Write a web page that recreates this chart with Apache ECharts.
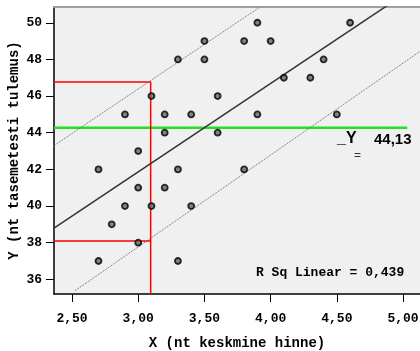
<!DOCTYPE html>
<html>
<head>
<meta charset="utf-8">
<script src="https://cdn.jsdelivr.net/npm/echarts@6/dist/echarts.min.js"></script>
<style>
html,body{margin:0;padding:0;background:#fff;}
#c{width:420px;height:351px;}
</style>
</head>
<body>
<div id="c"></div>
<script>
// Data
const xValues = [2.7,2.7,2.8,2.9,2.9,3.0,3.0,3.0,3.1,3.1,3.2,3.2,3.2,3.3,3.3,3.3,3.4,3.4,3.5,3.5,3.6,3.6,3.8,3.8,3.9,3.9,4.0,4.1,4.3,4.4,4.5,4.6];
const yValues = [42,37,39,45,40,43,41,38,46,40,45,44,41,48,42,37,45,40,49,48,46,44,49,42,50,45,49,47,47,48,45,50];
const xTicks = [2.5,3.0,3.5,4.0,4.5,5.0];
const yTicks = [36,38,40,42,44,46,48,50];
const xRange = [2.364,5.128];
const yRange = [35.2,50.86];
const upperBand = [[2.364,43.30],[3.92,50.86]];
const lowerBand = [[2.523,35.38],[5.128,48.44]];
const meanLine = [[2.364,44.27],[5.032,44.27]];
const meanLabel = "44,13";
const rSqLabel = "R Sq Linear = 0,439";
const redX = 3.094, redTop = 46.77, redLow = 38.09;

// least squares fit from the data
const n = xValues.length;
const mx = xValues.reduce((a,b)=>a+b,0)/n;
const my = yValues.reduce((a,b)=>a+b,0)/n;
let sxy=0,sxx=0;
for(let i=0;i<n;i++){sxy+=(xValues[i]-mx)*(yValues[i]-my);sxx+=(xValues[i]-mx)**2;}
const b = sxy/sxx, a = my-b*mx;
const fitLine = [[xRange[0],a+b*xRange[0]],[xRange[1],a+b*xRange[1]]];

const mono = '"Liberation Mono", "Courier New", monospace';
const chart = echarts.init(document.getElementById('c'));
chart.setOption({
  animation:false,
  grid:{left:54,right:0,top:7,bottom:57,show:true,backgroundColor:'#f0f0f0',borderWidth:0,
    containLabel:false,outerBoundsMode:'none'},
  xAxis:[{
    type:'value',min:xRange[0],max:xRange[1],
    name:'X (nt keskmine hinne)',nameLocation:'middle',nameGap:42,nameMoveOverlap:false,
    nameTextStyle:{fontFamily:mono,fontWeight:'bold',fontSize:14,color:'#000'},
    axisLine:{show:true,onZero:false,lineStyle:{color:'#000',width:1.5}},
    axisTick:{show:true,length:8,customValues:xTicks,lineStyle:{color:'#000'}},
    axisLabel:{customValues:xTicks,fontFamily:mono,fontWeight:'bold',fontSize:13,color:'#000',margin:18,
      formatter:v=>v.toFixed(2).replace('.',',')},
    splitLine:{show:false}
  },{
    type:'value',position:'top',min:xRange[0],max:xRange[1],
    axisLine:{show:true,onZero:false,lineStyle:{color:'#a0a0a0',width:2}},
    axisTick:{show:false},axisLabel:{show:false},splitLine:{show:false}
  }],
  yAxis:{
    type:'value',min:yRange[0],max:yRange[1],
    name:'Y (nt tasemetesti tulemus)',nameLocation:'middle',nameGap:33,nameMoveOverlap:false,
    nameTextStyle:{fontFamily:mono,fontWeight:'bold',fontSize:14,color:'#000'},
    axisLine:{show:true,onZero:false,lineStyle:{color:'#000',width:1.5}},
    axisTick:{show:true,length:8,customValues:yTicks,lineStyle:{color:'#000'}},
    axisLabel:{customValues:yTicks,fontFamily:mono,fontWeight:'bold',fontSize:13,color:'#000',margin:12,
      formatter:v=>String(Math.round(v))},
    splitLine:{show:false}
  },
  series:[
    {type:'line',data:meanLine,symbol:'none',lineStyle:{color:'#22e022',width:2.5},z:3},
    {type:'line',data:[[xRange[0],redTop],[redX,redTop],[redX,yRange[0]]],symbol:'none',lineStyle:{color:'#ff0000',width:1.5},z:3},
    {type:'line',data:[[xRange[0],redLow],[redX,redLow]],symbol:'none',lineStyle:{color:'#ff0000',width:1.5},z:3},
    {type:'line',data:fitLine,symbol:'none',lineStyle:{color:'#333',width:1.5},z:4},
    {type:'line',data:upperBand,symbol:'none',lineStyle:{color:'#666',width:1,type:[1,1]},z:4},
    {type:'line',data:lowerBand,symbol:'none',lineStyle:{color:'#666',width:1,type:[1,1]},z:4},
    {type:'scatter',data:xValues.map((x,i)=>[x,yValues[i]]),symbol:'circle',symbolSize:6,
      itemStyle:{color:'#666',borderColor:'#000',borderWidth:1.8},z:5}
  ],
  graphic:[
    {type:'text',left:337,top:131,style:{text:'_Y',font:'bold 16px "Liberation Sans", Arial, sans-serif',fill:'#000'}},
    {type:'text',left:354,top:150,style:{text:'=',font:'12px "Liberation Sans", Arial, sans-serif',fill:'#333'}},
    {type:'text',left:374,top:132,style:{text:meanLabel,font:'bold 15px "Liberation Sans", Arial, sans-serif',fill:'#000'}},
    {type:'text',left:256,top:266,style:{text:rSqLabel,font:'bold 13px "Liberation Mono", "Courier New", monospace',fill:'#000'}}
  ]
});
</script>
</body>
</html>
